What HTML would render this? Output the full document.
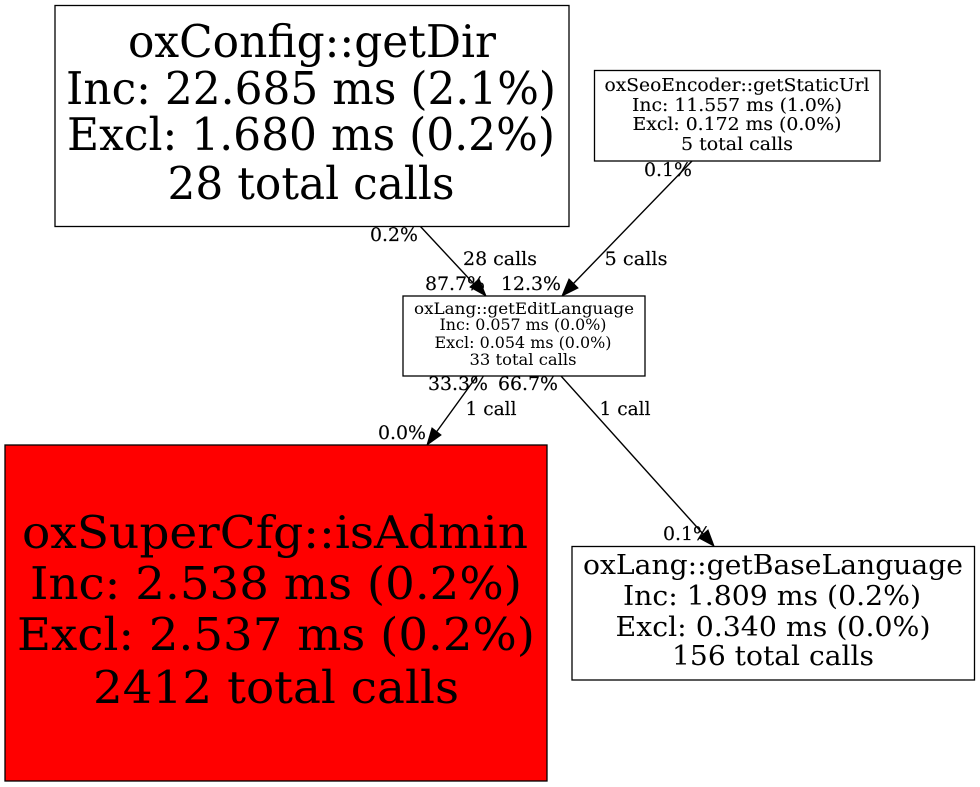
<!DOCTYPE html>
<html>
<head>
<meta charset="utf-8">
<style>
html,body{margin:0;padding:0;background:#fff;width:980px;height:787px;overflow:hidden}
svg{display:block}
text{font-family:"DejaVu Serif",serif;fill:#000;text-anchor:middle}
.e{font-size:18.4px;stroke:#000;stroke-width:.15px}
.s{stroke:#000;stroke-width:.12px}
</style>
</head>
<body>
<svg width="980" height="787" viewBox="0 0 980 787">
<rect x="0" y="0" width="980" height="787" fill="#fff"/>
<!-- edges -->
<g fill="none" stroke="#000" stroke-width="1.4">
<path d="M420,226 L474,284"/>
<path d="M692,161 L573,284"/>
<path d="M477,376 L435,434"/>
<path d="M561,376 L704,535"/>
</g>
<g fill="#000" stroke="#000">
<polygon points="486,296 470,287 479,279"/>
<polygon points="562,296 569,279 578,288"/>
<polygon points="427,445 432,428 441,435"/>
<polygon points="714,546 699,538 708,530"/>
</g>
<!-- nodes -->
<g stroke="#000" stroke-width="1.3">
<rect x="55" y="5.5" width="514" height="221" fill="#fff"/>
<rect x="594.5" y="70.5" width="285.5" height="90.5" fill="#fff"/>
<rect x="403" y="296" width="242" height="80" fill="#fff"/>
<rect x="5" y="445" width="542" height="336" fill="#f00"/>
<rect x="572" y="546.5" width="402.5" height="133.5" fill="#fff"/>
</g>
<!-- node text -->
<g font-size="45">
<text x="312" y="57" textLength="368" lengthAdjust="spacingAndGlyphs">oxConfig::getDir</text>
<text x="311" y="104" textLength="490" lengthAdjust="spacingAndGlyphs">Inc: 22.685 ms (2.1%)</text>
<text x="311" y="150" textLength="488" lengthAdjust="spacingAndGlyphs">Excl: 1.680 ms (0.2%)</text>
<text x="311" y="199" textLength="287" lengthAdjust="spacingAndGlyphs">28 total calls</text>
</g>
<g font-size="17.8" class="s">
<text x="737" y="91" textLength="265" lengthAdjust="spacingAndGlyphs">oxSeoEncoder::getStaticUrl</text>
<text x="737" y="111" textLength="210" lengthAdjust="spacingAndGlyphs">Inc: 11.557 ms (1.0%)</text>
<text x="737" y="130" textLength="209" lengthAdjust="spacingAndGlyphs">Excl: 0.172 ms (0.0%)</text>
<text x="737" y="150" textLength="112" lengthAdjust="spacingAndGlyphs">5 total calls</text>
</g>
<g font-size="16">
<text x="524" y="314" textLength="220" lengthAdjust="spacingAndGlyphs">oxLang::getEditLanguage</text>
<text x="523" y="330" textLength="167" lengthAdjust="spacingAndGlyphs">Inc: 0.057 ms (0.0%)</text>
<text x="523" y="348" textLength="177" lengthAdjust="spacingAndGlyphs">Excl: 0.054 ms (0.0%)</text>
<text x="523" y="365" textLength="107" lengthAdjust="spacingAndGlyphs">33 total calls</text>
</g>
<g font-size="45">
<text x="275" y="548" textLength="506" lengthAdjust="spacingAndGlyphs">oxSuperCfg::isAdmin</text>
<text x="276" y="599" textLength="492" lengthAdjust="spacingAndGlyphs">Inc: 2.538 ms (0.2%)</text>
<text x="276" y="650" textLength="518" lengthAdjust="spacingAndGlyphs">Excl: 2.537 ms (0.2%)</text>
<text x="276" y="703" textLength="366" lengthAdjust="spacingAndGlyphs">2412 total calls</text>
</g>
<g font-size="27">
<text x="773" y="574" textLength="380" lengthAdjust="spacingAndGlyphs">oxLang::getBaseLanguage</text>
<text x="772" y="605" textLength="298" lengthAdjust="spacingAndGlyphs">Inc: 1.809 ms (0.2%)</text>
<text x="773" y="636" textLength="315" lengthAdjust="spacingAndGlyphs">Excl: 0.340 ms (0.0%)</text>
<text x="773" y="665" textLength="202" lengthAdjust="spacingAndGlyphs">156 total calls</text>
</g>
<!-- edge labels -->
<g>
<text class="e" x="394" y="241" textLength="48" lengthAdjust="spacingAndGlyphs">0.2%</text>
<text class="e" x="500" y="265" textLength="74" lengthAdjust="spacingAndGlyphs">28 calls</text>
<text class="e" x="455" y="290" textLength="60" lengthAdjust="spacingAndGlyphs">87.7%</text>
<text class="e" x="531" y="290" textLength="60" lengthAdjust="spacingAndGlyphs">12.3%</text>
<text class="e" x="668" y="176" textLength="48" lengthAdjust="spacingAndGlyphs">0.1%</text>
<text class="e" x="636" y="265" textLength="63" lengthAdjust="spacingAndGlyphs">5 calls</text>
<text class="e" x="458" y="390" textLength="60" lengthAdjust="spacingAndGlyphs">33.3%</text>
<text class="e" x="528" y="390" textLength="60" lengthAdjust="spacingAndGlyphs">66.7%</text>
<text class="e" x="491" y="415" textLength="51" lengthAdjust="spacingAndGlyphs">1 call</text>
<text class="e" x="625" y="415" textLength="51" lengthAdjust="spacingAndGlyphs">1 call</text>
<text class="e" x="402" y="439" textLength="48" lengthAdjust="spacingAndGlyphs">0.0%</text>
<text class="e" x="687" y="540" textLength="48" lengthAdjust="spacingAndGlyphs">0.1%</text>
</g>
</svg>
</body>
</html>
